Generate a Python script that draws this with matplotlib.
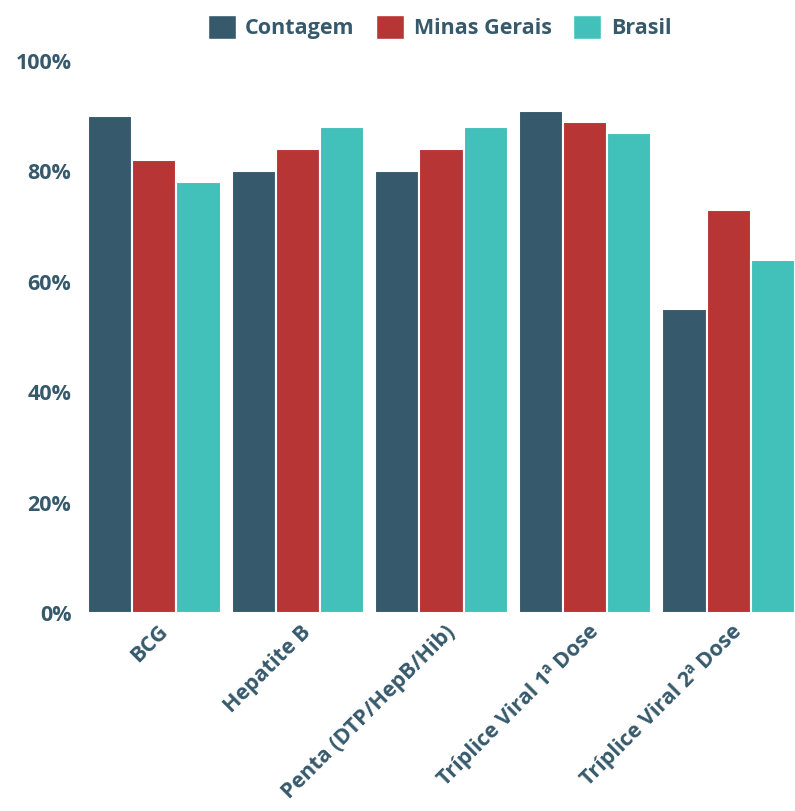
import numpy as np
import matplotlib
matplotlib.use('Agg')
from matplotlib import pyplot as plt
from matplotlib.patches import Patch

categories = ['BCG', 'Hepatite B', 'Penta (DTP/HepB/Hib)',
              'Tríplice Viral 1ª Dose', 'Tríplice Viral 2ª Dose']
contagem = [90, 80, 80, 91, 55]
minas = [82, 84, 84, 89, 73]
brasil = [78, 88, 88, 87, 64]
series = ['Contagem', 'Minas Gerais', 'Brasil']
yticks = [0, 20, 40, 60, 80, 100]

colors = ['#36596b', '#b83536', '#42c1bb']
txt = '#36596b'

plt.rcParams['font.family'] = ['Open Sans', 'DejaVu Sans']
plt.rcParams['font.weight'] = 'bold'

fig = plt.figure(figsize=(7.95, 8.11), dpi=100)
ax = fig.add_axes([88/795, 198/811, 707/795, 552/811])

x = np.arange(len(categories))
w = 0.308
for i, (vals, c) in enumerate(zip([contagem, minas, brasil], colors)):
    ax.bar(x + (i - 1) * w, vals, width=w, color=c, edgecolor='white',
           linewidth=1.5)

ax.set_xlim(-1.5 * w, len(categories) - 1 + 1.5 * w)
ax.set_ylim(0, 100)
ax.set_yticks(yticks)
ax.set_yticklabels(['%d%%' % v for v in yticks], fontsize=15.5, color=txt,
                   fontweight='bold')
ax.set_xticks(x + 0.02)
ax.set_xticklabels(categories, rotation=45, ha='right', rotation_mode='anchor',
                   fontsize=15.5, color=txt, fontweight='bold')
ax.tick_params(length=0, axis='y', pad=12)
ax.tick_params(length=0, axis='x', pad=6)
for s in ax.spines.values():
    s.set_visible(False)

handles = [Patch(facecolor=c, edgecolor='white', label=l) for c, l in zip(colors, series)]
leg = fig.legend(handles=handles, loc='upper center', bbox_to_anchor=(0.553, 1.005),
                 ncol=3, frameon=False, fontsize=15.5, handlelength=1.3,
                 handleheight=1.3, handletextpad=0.45, columnspacing=1.0)
for t in leg.get_texts():
    t.set_color(txt)
    t.set_fontweight('bold')

plt.savefig('out.png', dpi=100)
